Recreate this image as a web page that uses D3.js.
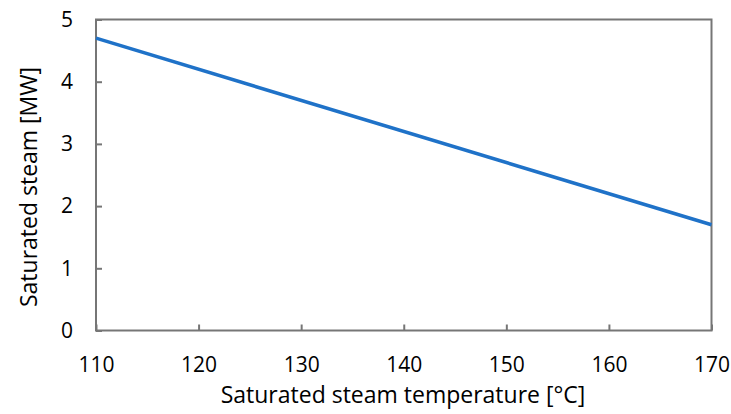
<!DOCTYPE html>
<html><head><meta charset="utf-8">
<script src="https://cdn.jsdelivr.net/npm/d3@7"></script>
<style>body{margin:0;background:#fff;} text{font-family:"Open Sans",sans-serif;fill:#000;}</style>
</head><body>
<svg id="c" width="731" height="414"></svg>
<script>
const temperature = [110, 170];
const steamMW = [4.7, 1.7];
const xTicks = [110, 120, 130, 140, 150, 160, 170];
const yTicks = [0, 1, 2, 3, 4, 5];
const xTitle = "Saturated steam temperature [°C]";
const yTitle = "Saturated steam [MW]";

const svg = d3.select("#c");
const L = 96, R = 711.5, T = 19.5, B = 330.5;
const x = d3.scaleLinear().domain([110, 170]).range([L, R]);
const y = d3.scaleLinear().domain([0, 5]).range([B, T]);
const axisColor = "#767676";

svg.append("rect").attr("x", L).attr("y", T).attr("width", R - L).attr("height", B - T)
  .attr("fill", "none").attr("stroke", axisColor).attr("stroke-width", 2);

const xa = svg.append("g").attr("transform", `translate(0,${B})`)
  .call(d3.axisBottom(x).tickValues(xTicks).tickSize(-6).tickPadding(40).tickFormat(d3.format("d")));
const ya = svg.append("g").attr("transform", `translate(${L},0)`)
  .call(d3.axisLeft(y).tickValues(yTicks).tickSize(-6).tickPadding(25).tickFormat(d3.format("d")));
[xa, ya].forEach(g => {
  g.select(".domain").remove();
  g.selectAll(".tick line").attr("stroke", axisColor).attr("stroke-width", 2);
  g.selectAll(".tick text").attr("font-size", 21).attr("font-family", "Open Sans").attr("fill", "#000");
});
xa.selectAll(".tick text").attr("dy", "0").attr("y", 41);
ya.selectAll(".tick text").attr("x", -23);

const data = temperature.map((t, i) => ({t, v: steamMW[i]}));
svg.append("path").datum(data)
  .attr("d", d3.line().x(d => x(d.t)).y(d => y(d.v)))
  .attr("fill", "none").attr("stroke", "#1f72c8").attr("stroke-width", 3.5);

svg.append("text").attr("x", 403).attr("y", 403).attr("text-anchor", "middle")
  .attr("font-size", 23).text(xTitle);
svg.append("text").attr("transform", "translate(37,187) rotate(-90)").attr("text-anchor", "middle")
  .attr("font-size", 23).text(yTitle);
</script>
</body></html>
